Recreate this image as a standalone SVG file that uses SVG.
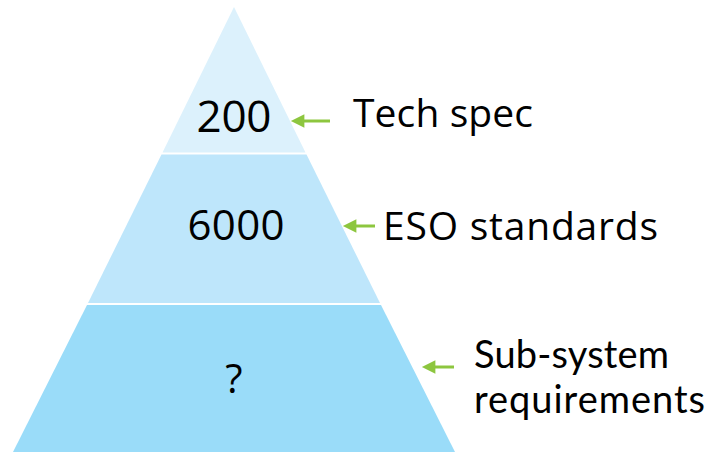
<svg xmlns="http://www.w3.org/2000/svg" width="711" height="453" viewBox="0 0 711 453">
<defs>
<style>
.t{font-family:"Open Sans","Liberation Sans",sans-serif;fill:#000}
.s{font-family:Lato,"Open Sans",sans-serif;fill:#000}
.a{stroke:#8DC63F;stroke-width:3;fill:none}
</style>
<marker id="ah" viewBox="0 0 10 10" refX="1" refY="5" markerWidth="5" markerHeight="4.5" orient="auto-start-reverse" markerUnits="strokeWidth">
<path d="M0,0 L10,5 L0,10 Z" fill="#8DC63F"/>
</marker>
</defs>
<rect width="711" height="453" fill="#fff"/>
<g id="layer-top">
<polygon points="234,7 162.5,152.5 305.5,152.5" fill="#DCF1FC"/>
<text class="t" x="234" y="132" font-size="44" text-anchor="middle" textLength="75">200</text>
</g>
<g id="layer-middle">
<polygon points="161.5,154.5 306.5,154.5 380,303 88,303" fill="#BEE6FB"/>
<text class="t" x="236" y="240" font-size="42" text-anchor="middle" textLength="97">6000</text>
</g>
<g id="layer-bottom">
<polygon points="87,305 381,305 455,452 13,452" fill="#9ADCF9"/>
<text class="t" x="234" y="393" font-size="40" text-anchor="middle">?</text>
</g>
<g id="label-tech">
<text class="t" x="353" y="127" font-size="39" textLength="180">Tech spec</text>
</g>
<g id="label-eso">
<text class="t" x="383" y="240" font-size="39" textLength="275">ESO standards</text>
</g>
<g id="label-sub">
<text class="s" x="474" y="368" font-size="38" textLength="195">Sub-system</text>
<text class="s" x="474" y="413" font-size="38" textLength="231">requirements</text>
</g>
<g id="connectors">
<line class="a" x1="330" y1="121" x2="303" y2="121" marker-end="url(#ah)"/>
<line class="a" x1="375" y1="226" x2="355" y2="226" marker-end="url(#ah)"/>
<line class="a" x1="454" y1="367" x2="434" y2="367" marker-end="url(#ah)"/>
</g>
</svg>
